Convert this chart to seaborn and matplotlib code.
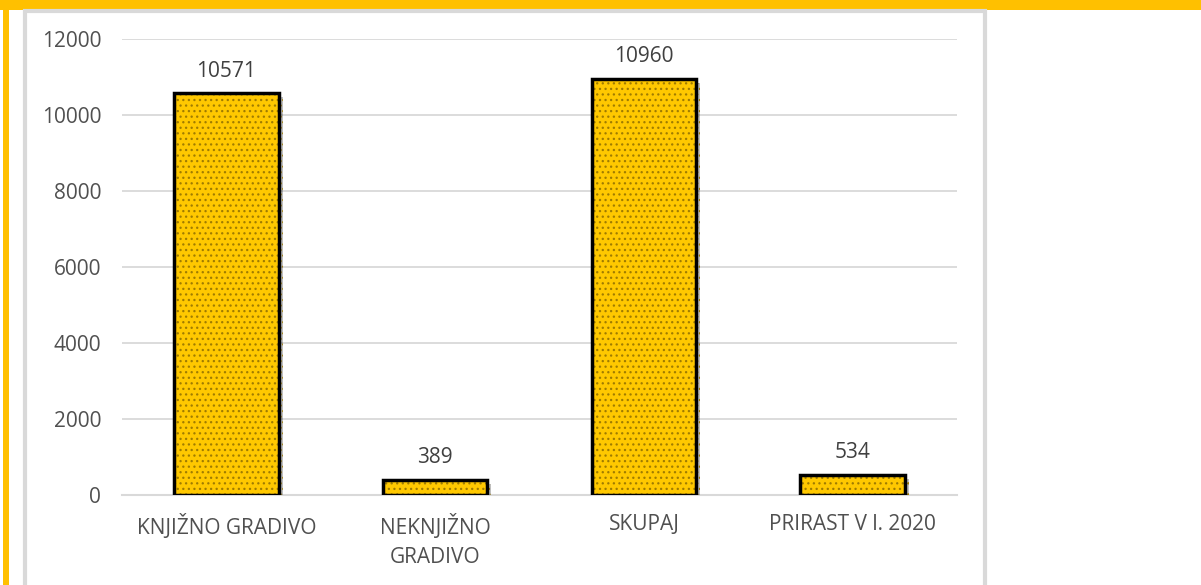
import matplotlib
matplotlib.use("Agg")
import matplotlib.pyplot as plt
import matplotlib.patheffects as pe
from matplotlib.patches import Rectangle
import seaborn as sns
import pandas as pd

categories = ["KNJIŽNO GRADIVO", "NEKNJIŽNO\nGRADIVO", "SKUPAJ", "PRIRAST V l. 2020"]
values = [10571, 389, 10960, 534]
yticks = [0, 2000, 4000, 6000, 8000, 10000, 12000]

df = pd.DataFrame({"cat": categories, "val": values})

sns.set_theme(style="white")
plt.rcParams['font.family'] = ['Open Sans', 'DejaVu Sans']
plt.rcParams['hatch.linewidth'] = 0.9

W, H = 1201, 585
fig = plt.figure(figsize=(W / 100, H / 100), dpi=100)
fig.patch.set_facecolor("white")

def px(x0, y0, w, h, **kw):
    fig.patches.append(Rectangle((x0 / W, 1 - (y0 + h) / H), w / W, h / H,
                                 transform=fig.transFigure, figure=fig, **kw))

# decoration: yellow frame and grey panel border
px(0, 0, W, 10, facecolor="#FFC000", edgecolor="none", zorder=-5)
px(3, 0, 6, H, facecolor="#FFC000", edgecolor="none", zorder=-5)
px(24.5, 11, 960, H, facecolor="white", edgecolor="#D9D9D9", linewidth=3, zorder=-4)

ax = fig.add_axes([122 / W, 1 - 495 / H, (957 - 122) / W, (495 - 39) / H])
ax.set_facecolor("none")
ax.set_zorder(2)

text_col = "#505050"
gold = "#FFC800"

# hatched fill
sns.barplot(data=df, x="cat", y="val", ax=ax, color=gold, width=0.5,
            saturation=1, edgecolor="#A07C00", linewidth=0, hatch="...", zorder=3)
for p in ax.patches:
    p.set_path_effects([pe.SimplePatchShadow(offset=(3, -3), alpha=0.25, shadow_rgbFace="black"),
                        pe.Normal()])
# black outline
sns.barplot(data=df, x="cat", y="val", ax=ax, color=gold, width=0.5,
            saturation=1, fill=False, edgecolor="black", linewidth=2.5, zorder=4)

ax.set_xlim(-0.5, 3.5)
ax.set_ylim(0, 12000)
ax.set_yticks(yticks)
ax.set_yticklabels([str(t) for t in yticks])
ax.yaxis.grid(True, color="#D9D9D9", linewidth=1.3, zorder=0)
ax.set_axisbelow(True)
for s in ["top", "right", "left"]:
    ax.spines[s].set_visible(False)
ax.spines["bottom"].set_color("#D9D9D9")
ax.spines["bottom"].set_linewidth(1.5)
ax.set_xlabel("")
ax.set_ylabel("")
ax.tick_params(axis="y", length=0, pad=15, labelsize=15, labelcolor=text_col)
ax.tick_params(axis="x", length=0, pad=14, labelsize=15, labelcolor=text_col)
for lab in ax.get_xticklabels():
    lab.set_linespacing(1.5)

for i, v in enumerate(values):
    ax.annotate(str(v), (i, v), xytext=(0, 16), textcoords="offset points",
                ha="center", va="center", fontsize=15, color="#404040")

fig.savefig("out.png", dpi=100)
